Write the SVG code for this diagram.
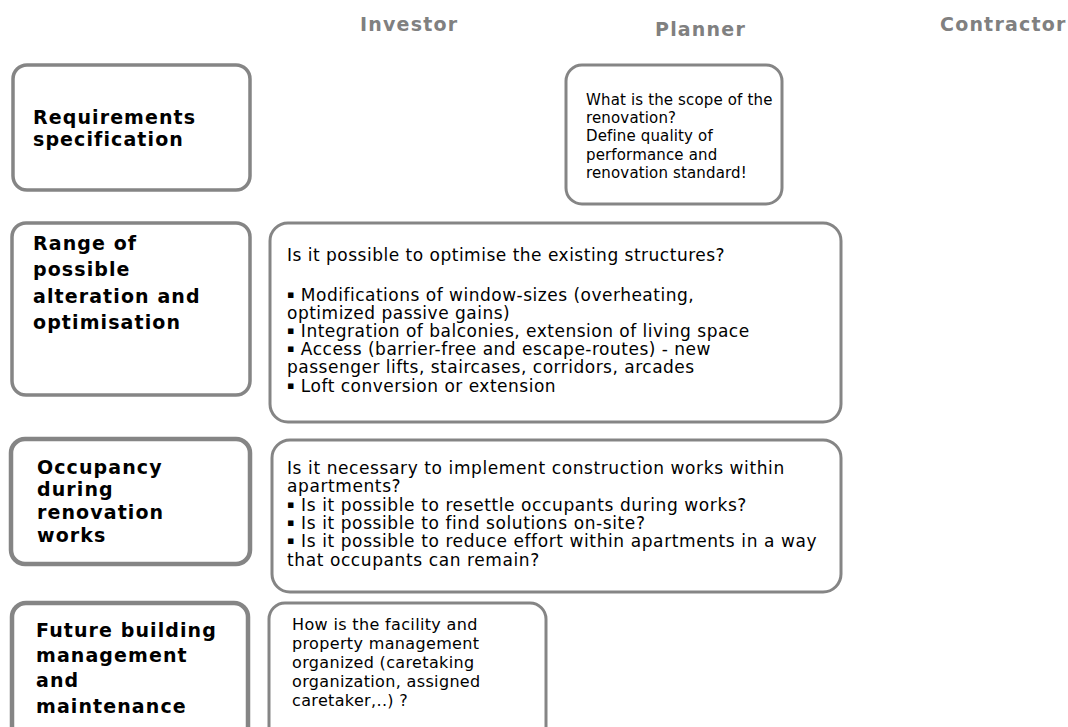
<svg xmlns="http://www.w3.org/2000/svg" width="1068" height="727" viewBox="0 0 1068 727">
<style>
.hdr{font-family:"DejaVu Sans","Liberation Sans",sans-serif;font-weight:bold;font-size:19px;fill:#808080;letter-spacing:1.2px}
.box{fill:#fff;stroke:#858585;stroke-width:3}
.lbox{fill:#fff;stroke:#858585;stroke-width:3.5}
.thick{stroke-width:4.5}
.lbl{font-family:"DejaVu Sans","Liberation Sans",sans-serif;font-weight:bold;font-size:19px;fill:#000;letter-spacing:1.1px}
.txt{font-family:"DejaVu Sans","Liberation Sans",sans-serif;font-size:17px;fill:#000;letter-spacing:0.5px}
.t15{font-size:15px;letter-spacing:0.15px}
.t16{font-size:16px;letter-spacing:0.35px}
.t17{font-size:17px;letter-spacing:0.6px}
.b{font-size:11px;baseline-shift:3px}
</style>
<g id="headers">
<text class="hdr" x="360" y="31">Investor</text>
<text class="hdr" x="655" y="36">Planner</text>
<text class="hdr" x="940" y="31">Contractor</text>
</g>
<g id="connectors"></g>
<g id="node-req">
<rect class="lbox" x="13" y="65" width="237" height="125" rx="14"/>
<text class="lbl"><tspan x="33" y="124">Requirements</tspan><tspan x="33" y="146">specification</tspan></text>
</g>
<g id="node-req-planner">
<rect class="box" x="566" y="65" width="216" height="139" rx="16"/>
<text class="txt t15"><tspan x="586" y="105">What is the scope of the</tspan><tspan x="586" y="123">renovation?</tspan><tspan x="586" y="141">Define quality of</tspan><tspan x="586" y="160">performance and</tspan><tspan x="586" y="178">renovation standard!</tspan></text>
</g>
<g id="node-range">
<rect class="lbox" x="12" y="223" width="238" height="172" rx="14"/>
<text class="lbl"><tspan x="33" y="250">Range of</tspan><tspan x="33" y="276">possible</tspan><tspan x="33" y="303">alteration and</tspan><tspan x="33" y="329">optimisation</tspan></text>
</g>
<g id="node-range-planner">
<rect class="box" x="270" y="223" width="571" height="199" rx="18"/>
<text class="txt"><tspan x="287" y="261">Is it possible to optimise the existing structures?</tspan><tspan x="287" y="301"><tspan class="b">▪</tspan> Modifications of window-sizes (overheating,</tspan><tspan x="287" y="319">optimized passive gains)</tspan><tspan x="287" y="337"><tspan class="b">▪</tspan> Integration of balconies, extension of living space</tspan><tspan x="287" y="355"><tspan class="b">▪</tspan> Access (barrier-free and escape-routes) - new</tspan><tspan x="287" y="373">passenger lifts, staircases, corridors, arcades</tspan><tspan x="287" y="392"><tspan class="b">▪</tspan> Loft conversion or extension</tspan></text>
</g>
<g id="node-occ">
<rect class="lbox thick" x="11" y="439" width="239" height="125" rx="14"/>
<text class="lbl"><tspan x="37" y="474">Occupancy</tspan><tspan x="37" y="496">during</tspan><tspan x="37" y="519">renovation</tspan><tspan x="37" y="542">works</tspan></text>
</g>
<g id="node-occ-planner">
<rect class="box" x="272" y="440" width="569" height="152" rx="18"/>
<text class="txt t17"><tspan x="287" y="474">Is it necessary to implement construction works within</tspan><tspan x="287" y="492">apartments?</tspan><tspan x="287" y="511"><tspan class="b">▪</tspan> Is it possible to resettle occupants during works?</tspan><tspan x="287" y="529"><tspan class="b">▪</tspan> Is it possible to find solutions on-site?</tspan><tspan x="287" y="547"><tspan class="b">▪</tspan> Is it possible to reduce effort within apartments in a way</tspan><tspan x="287" y="566">that occupants can remain?</tspan></text>
</g>
<g id="node-fut">
<rect class="lbox thick" x="12" y="603" width="236" height="140" rx="14"/>
<text class="lbl"><tspan x="36" y="637">Future building</tspan><tspan x="36" y="662">management</tspan><tspan x="36" y="687">and</tspan><tspan x="36" y="713">maintenance</tspan></text>
</g>
<g id="node-fut-planner">
<rect class="box" x="269" y="603" width="277" height="140" rx="16"/>
<text class="txt t16"><tspan x="292" y="630">How is the facility and</tspan><tspan x="292" y="649">property management</tspan><tspan x="292" y="668">organized (caretaking</tspan><tspan x="292" y="687">organization, assigned</tspan><tspan x="292" y="706">caretaker,..) ?</tspan></text>
</g>
</svg>
